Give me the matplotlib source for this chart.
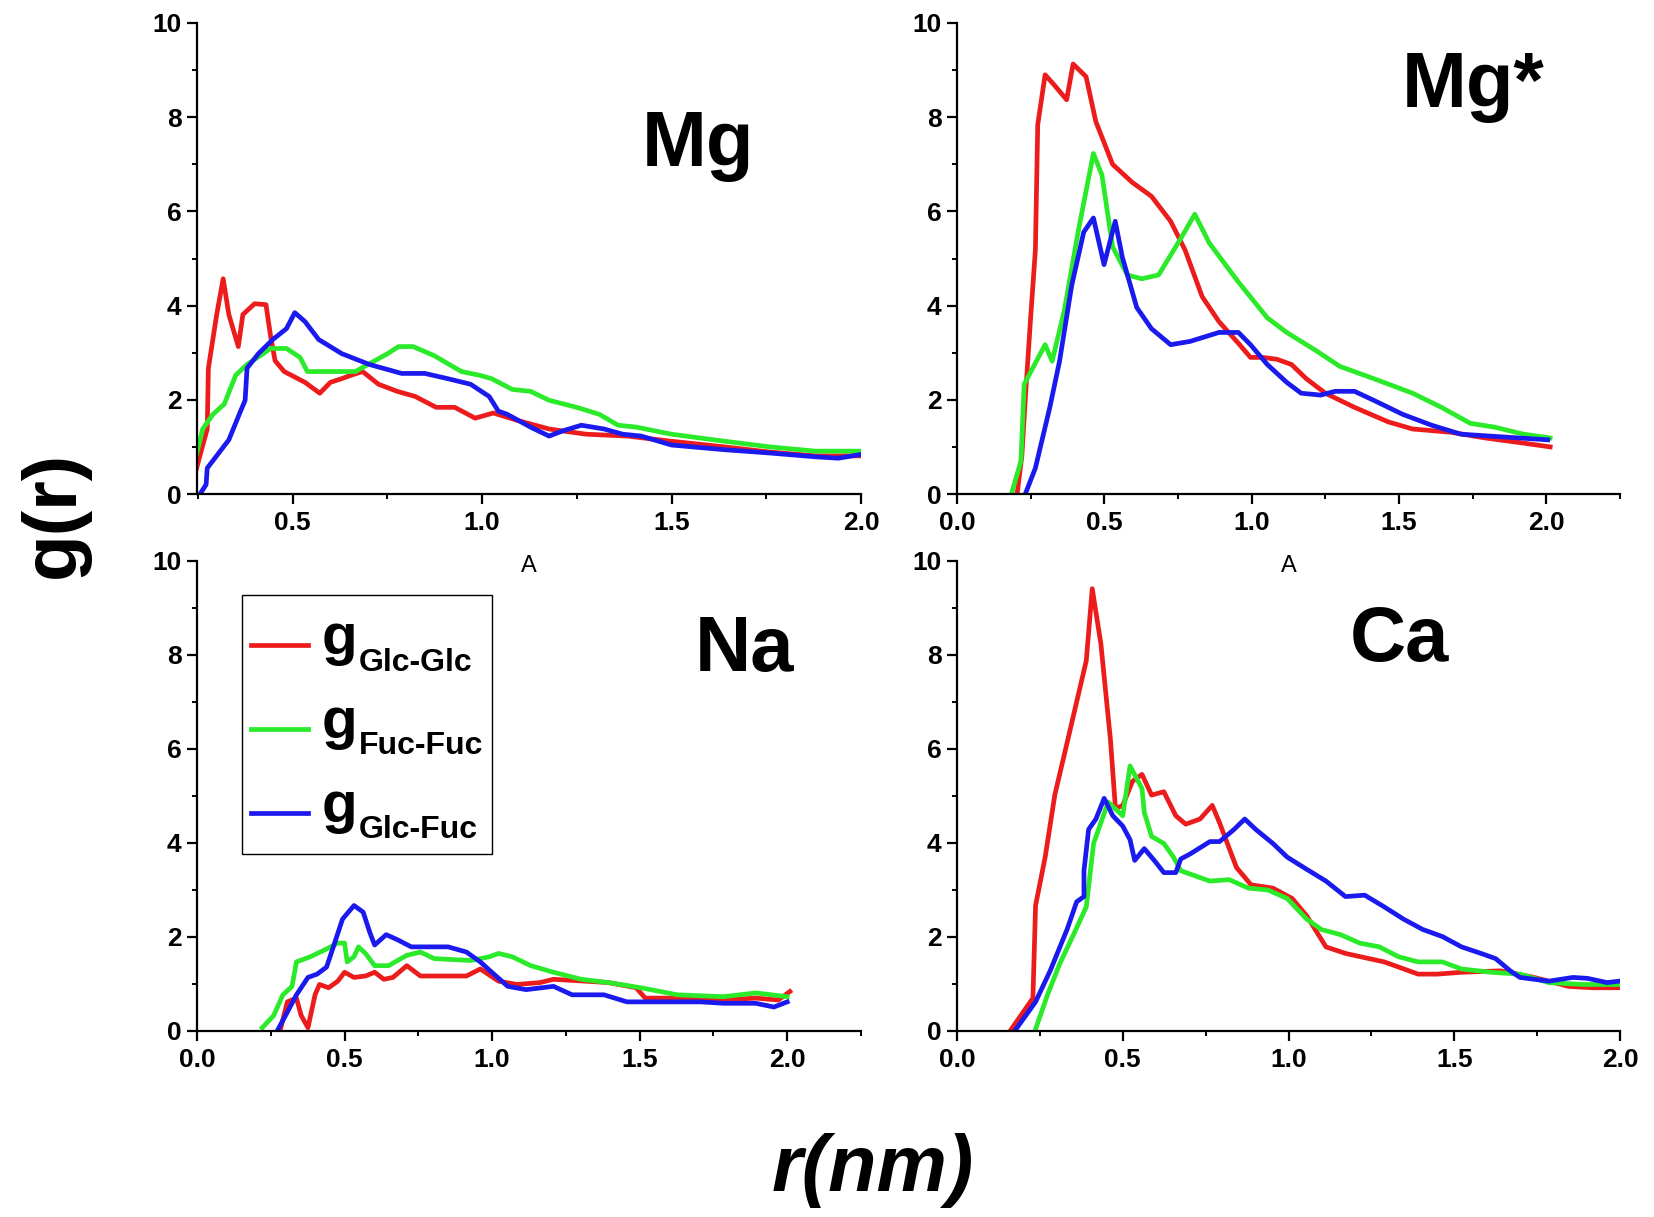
import matplotlib
matplotlib.use("Agg")
import matplotlib.pyplot as plt
from matplotlib.ticker import MultipleLocator
from matplotlib.lines import Line2D
from matplotlib.offsetbox import AnchoredOffsetbox, HPacker, VPacker, TextArea, DrawingArea

plt.rcParams['font.family'] = ['Liberation Sans', 'DejaVu Sans']

RED = '#ec1c1c'
GREEN = '#2aea2a'
BLUE = '#1a1aee'

# ---- Mg ----
mg_glc_x = [0.247, 0.262, 0.275, 0.278, 0.30, 0.317, 0.332, 0.357, 0.369, 0.40, 0.43, 0.442, 0.454, 0.478,
            0.533, 0.572, 0.60, 0.63, 0.654, 0.685, 0.727, 0.776, 0.824, 0.879, 0.928, 0.982, 1.03, 1.09,
            1.177, 1.274, 1.383, 1.5, 1.64, 1.76, 1.88, 2.0]
mg_glc_y = [0.55, 1.0, 1.38, 2.67, 3.81, 4.57, 3.81, 3.13, 3.81, 4.04, 4.02, 3.36, 2.83, 2.6,
            2.37, 2.14, 2.37, 2.45, 2.52, 2.6, 2.33, 2.18, 2.07, 1.84, 1.84, 1.61, 1.72, 1.57,
            1.38, 1.27, 1.23, 1.12, 1.0, 0.89, 0.81, 0.81]
mg_fuc_x = [0.247, 0.263, 0.29, 0.32, 0.35, 0.38, 0.423, 0.442, 0.484, 0.52, 0.539, 0.666, 0.715, 0.751,
            0.78, 0.818, 0.873, 0.946, 0.994, 1.025, 1.08, 1.128, 1.177, 1.25, 1.31, 1.359, 1.407, 1.5,
            1.64, 1.76, 1.88, 2.0]
mg_fuc_y = [0.85, 1.38, 1.69, 1.91, 2.52, 2.75, 2.98, 3.09, 3.09, 2.9, 2.6, 2.6, 2.82, 2.98,
            3.13, 3.13, 2.94, 2.6, 2.52, 2.45, 2.22, 2.18, 1.99, 1.84, 1.69, 1.46, 1.42, 1.27,
            1.12, 1.0, 0.91, 0.91]
mg_mix_x = [0.256, 0.272, 0.275, 0.296, 0.332, 0.363, 0.375, 0.38, 0.41, 0.448, 0.484, 0.506, 0.533, 0.569,
            0.63, 0.703, 0.788, 0.849, 0.909, 0.97, 1.019, 1.043, 1.067, 1.128, 1.177, 1.213, 1.262, 1.322,
            1.371, 1.42, 1.5, 1.64, 1.76, 1.88, 1.94, 2.0]
mg_mix_y = [0.0, 0.2, 0.55, 0.77, 1.15, 1.76, 1.99, 2.67, 2.98, 3.28, 3.51, 3.85, 3.66, 3.28,
            2.98, 2.75, 2.56, 2.56, 2.45, 2.33, 2.07, 1.76, 1.69, 1.42, 1.23, 1.34, 1.46, 1.38,
            1.27, 1.23, 1.04, 0.94, 0.87, 0.79, 0.76, 0.84]

# ---- Mg* ----
mgs_glc_x = [0.205, 0.22, 0.233, 0.249, 0.266, 0.274, 0.299, 0.332, 0.372, 0.394, 0.438, 0.471, 0.528,
             0.594, 0.66, 0.725, 0.774, 0.832, 0.889, 0.955, 0.996, 1.037, 1.086, 1.135, 1.185, 1.25,
             1.349, 1.464, 1.546, 1.677, 1.792, 1.923, 2.013]
mgs_glc_y = [0.05, 0.8, 2.14, 3.66, 5.18, 7.84, 8.9, 8.67, 8.37, 9.13, 8.86, 7.91, 7.0,
             6.62, 6.32, 5.79, 5.18, 4.19, 3.66, 3.2, 2.9, 2.9, 2.86, 2.75, 2.45, 2.14,
             1.84, 1.53, 1.38, 1.31, 1.19, 1.08, 1.0]
mgs_fuc_x = [0.187, 0.217, 0.228, 0.299, 0.323, 0.364, 0.413, 0.463, 0.492, 0.528, 0.578, 0.627, 0.684,
             0.758, 0.807, 0.856, 0.955, 1.053, 1.119, 1.217, 1.299, 1.414, 1.546, 1.644, 1.742, 1.824,
             1.923, 2.013]
mgs_fuc_y = [0.05, 0.7, 2.33, 3.17, 2.82, 3.89, 5.63, 7.23, 6.77, 5.25, 4.65, 4.57, 4.65,
             5.41, 5.94, 5.33, 4.5, 3.74, 3.43, 3.05, 2.71, 2.45, 2.14, 1.84, 1.5, 1.42,
             1.27, 1.19]
mgs_mix_x = [0.233, 0.266, 0.315, 0.348, 0.389, 0.43, 0.463, 0.499, 0.537, 0.561, 0.61, 0.66, 0.725,
             0.791, 0.889, 0.955, 0.996, 1.053, 1.119, 1.168, 1.234, 1.283, 1.349, 1.414, 1.513, 1.611,
             1.71, 1.808, 1.906, 2.005]
mgs_mix_y = [0.02, 0.55, 1.84, 2.82, 4.42, 5.56, 5.86, 4.87, 5.79, 5.03, 3.96, 3.51, 3.17,
             3.24, 3.43, 3.43, 3.17, 2.75, 2.37, 2.14, 2.10, 2.18, 2.18, 1.99, 1.69, 1.46,
             1.27, 1.23, 1.19, 1.15]

# ---- Na ----
na_glc_x = [0.283, 0.306, 0.337, 0.353, 0.376, 0.40, 0.415, 0.446, 0.477, 0.50, 0.532, 0.571, 0.602,
            0.633, 0.664, 0.711, 0.757, 0.851, 0.913, 0.96, 1.022, 1.084, 1.162, 1.208, 1.317, 1.395,
            1.488, 1.519, 1.628, 1.784, 1.893, 1.97, 2.009]
na_glc_y = [0.04, 0.62, 0.70, 0.33, 0.07, 0.77, 0.99, 0.92, 1.06, 1.25, 1.14, 1.17, 1.25,
            1.10, 1.14, 1.39, 1.17, 1.17, 1.17, 1.32, 1.06, 0.99, 1.03, 1.10, 1.06, 1.03,
            0.92, 0.70, 0.70, 0.66, 0.70, 0.66, 0.84]
na_fuc_x = [0.221, 0.26, 0.291, 0.322, 0.337, 0.384, 0.431, 0.477, 0.50, 0.509, 0.532, 0.547, 0.571,
            0.602, 0.649, 0.711, 0.757, 0.804, 0.928, 0.991, 1.022, 1.068, 1.131, 1.208, 1.302, 1.395,
            1.504, 1.628, 1.784, 1.893, 2.0]
na_fuc_y = [0.07, 0.33, 0.77, 0.95, 1.47, 1.58, 1.72, 1.87, 1.87, 1.47, 1.58, 1.79, 1.65,
            1.39, 1.39, 1.61, 1.68, 1.54, 1.50, 1.58, 1.65, 1.58, 1.39, 1.25, 1.10, 1.03,
            0.92, 0.77, 0.73, 0.81, 0.73]
na_mix_x = [0.275, 0.306, 0.337, 0.376, 0.407, 0.439, 0.462, 0.493, 0.532, 0.563, 0.586, 0.602, 0.641,
            0.68, 0.726, 0.851, 0.913, 0.96, 1.006, 1.053, 1.115, 1.208, 1.271, 1.379, 1.457, 1.55,
            1.706, 1.784, 1.893, 1.955, 2.0]
na_mix_y = [0.04, 0.40, 0.77, 1.14, 1.21, 1.36, 1.79, 2.38, 2.67, 2.53, 2.09, 1.83, 2.05,
            1.94, 1.79, 1.79, 1.68, 1.47, 1.21, 0.95, 0.88, 0.95, 0.77, 0.77, 0.62, 0.62,
            0.62, 0.59, 0.59, 0.51, 0.62]

# ---- Ca ----
ca_glc_x = [0.164, 0.229, 0.237, 0.266, 0.295, 0.339, 0.39, 0.408, 0.434, 0.463, 0.478, 0.50, 0.529,
            0.558, 0.587, 0.624, 0.66, 0.69, 0.733, 0.77, 0.792, 0.843, 0.887, 0.953, 1.011, 1.055,
            1.113, 1.172, 1.289, 1.391, 1.449, 1.522, 1.639, 1.741, 1.844, 1.917, 1.997]
ca_glc_y = [0.04, 0.70, 2.67, 3.70, 5.02, 6.34, 7.88, 9.41, 8.24, 6.19, 4.73, 4.80, 5.31,
            5.46, 5.02, 5.09, 4.58, 4.40, 4.51, 4.80, 4.43, 3.48, 3.11, 3.04, 2.82, 2.45,
            1.79, 1.65, 1.47, 1.21, 1.21, 1.25, 1.28, 1.14, 0.95, 0.92, 0.92]
ca_fuc_x = [0.237, 0.273, 0.31, 0.354, 0.39, 0.412, 0.456, 0.50, 0.522, 0.558, 0.565, 0.587, 0.624,
            0.653, 0.675, 0.763, 0.821, 0.879, 0.938, 0.996, 1.055, 1.099, 1.157, 1.215, 1.274, 1.332,
            1.391, 1.464, 1.522, 1.61, 1.698, 1.785, 1.887, 1.997]
ca_fuc_y = [0.04, 0.77, 1.43, 2.09, 2.64, 3.99, 4.87, 4.58, 5.64, 5.16, 4.65, 4.14, 3.99,
            3.70, 3.41, 3.19, 3.22, 3.04, 3.0, 2.82, 2.38, 2.16, 2.05, 1.87, 1.79, 1.58,
            1.47, 1.47, 1.32, 1.25, 1.21, 1.03, 0.99, 0.99]
ca_mix_x = [0.178, 0.237, 0.281, 0.332, 0.361, 0.383, 0.383, 0.397, 0.419, 0.444, 0.47, 0.50, 0.522,
            0.536, 0.565, 0.595, 0.624, 0.66, 0.675, 0.704, 0.763, 0.792, 0.836, 0.868, 0.901, 0.953,
            0.996, 1.055, 1.113, 1.172, 1.23, 1.289, 1.347, 1.405, 1.464, 1.522, 1.581, 1.625, 1.669,
            1.698, 1.785, 1.858, 1.902, 1.961, 1.997]
ca_mix_y = [0.04, 0.62, 1.28, 2.16, 2.75, 2.86, 3.41, 4.29, 4.51, 4.95, 4.58, 4.36, 4.07,
            3.63, 3.88, 3.63, 3.37, 3.37, 3.66, 3.77, 4.03, 4.03, 4.29, 4.51, 4.29, 3.99,
            3.70, 3.44, 3.19, 2.86, 2.89, 2.64, 2.38, 2.16, 2.01, 1.79, 1.65, 1.54, 1.28,
            1.14, 1.06, 1.14, 1.12, 1.03, 1.06]

subscripts = ['Glc-Glc', 'Fuc-Fuc', 'Glc-Fuc']
colors = [RED, GREEN, BLUE]

W, H = 1654, 1217
fig = plt.figure(figsize=(W / 100, H / 100), dpi=100)


def make_axes(left, top, right, bottom):
    ax = fig.add_axes([left / W, 1 - bottom / H, (right - left) / W, (bottom - top) / H])
    ax.set_facecolor('none')
    return ax


ax_mg = make_axes(197, 23, 861, 494)
ax_mgs = make_axes(957, 23, 1620, 494)
ax_na = make_axes(197, 561, 861, 1031)
ax_ca = make_axes(957, 561, 1620, 1031)

panels = [
    (ax_mg, 'Mg', (0.755, 0.696), (0.248, 2.0),
     [(mg_glc_x, mg_glc_y), (mg_fuc_x, mg_fuc_y), (mg_mix_x, mg_mix_y)]),
    (ax_mgs, 'Mg*', (0.778, 0.822), (0.0, 2.25),
     [(mgs_glc_x, mgs_glc_y), (mgs_fuc_x, mgs_fuc_y), (mgs_mix_x, mgs_mix_y)]),
    (ax_na, 'Na', (0.825, 0.767), (0.0, 2.25),
     [(na_glc_x, na_glc_y), (na_fuc_x, na_fuc_y), (na_mix_x, na_mix_y)]),
    (ax_ca, 'Ca', (0.667, 0.788), (0.0, 2.0),
     [(ca_glc_x, ca_glc_y), (ca_fuc_x, ca_fuc_y), (ca_mix_x, ca_mix_y)]),
]

for ax, name, pos, xlim, series in panels:
    for (x, y), c in zip(series, colors):
        ax.plot(x, y, color=c, lw=3.4, solid_joinstyle='round')
    ax.set_xlim(*xlim)
    ax.set_ylim(0, 10)
    ax.xaxis.set_major_locator(MultipleLocator(0.5))
    ax.xaxis.set_minor_locator(MultipleLocator(0.25))
    ax.yaxis.set_major_locator(MultipleLocator(2))
    ax.yaxis.set_minor_locator(MultipleLocator(1))
    ax.xaxis.set_major_formatter(matplotlib.ticker.FormatStrFormatter('%.1f'))
    ax.spines['top'].set_visible(False)
    ax.spines['right'].set_visible(False)
    for s in ['left', 'bottom']:
        ax.spines[s].set_linewidth(1.6)
    ax.tick_params(which='major', direction='out', length=7, width=1.6, labelsize=19)
    ax.tick_params(axis='x', which='major', pad=5)
    ax.tick_params(axis='y', which='major', pad=4)
    ax.tick_params(which='minor', direction='out', length=3.6, width=1.4)
    for t in ax.get_xticklabels() + ax.get_yticklabels():
        t.set_fontweight('bold')
    ax.text(pos[0], pos[1], name, transform=ax.transAxes, ha='center', va='baseline',
            fontsize=56, fontweight='bold')

ax_mg.set_xlabel('A', fontsize=17, fontweight='normal', labelpad=15)
ax_mgs.set_xlabel('A', fontsize=17, fontweight='normal', labelpad=15)

# legend: big "g" with a smaller, lowered subscript
rows = []
for c, sub in zip(colors, subscripts):
    handle = DrawingArea(41, 47, 0, 0)
    handle.add_artist(Line2D([0, 41], [23.6, 23.6], color=c, lw=3.4))
    g_box = VPacker(children=[TextArea('g', textprops=dict(fontsize=42, fontweight='bold')),
                              DrawingArea(1, 8, 0, 0)], align='left', pad=0, sep=0)
    sub_box = TextArea(sub, textprops=dict(fontsize=23, fontweight='bold'))
    label = HPacker(children=[g_box, sub_box], align='bottom', pad=0, sep=1)
    rows.append(HPacker(children=[handle, label], align='bottom', pad=0, sep=10))
entries = VPacker(children=rows, align='left', pad=0, sep=13.4)
legend_box = VPacker(children=[DrawingArea(1, 6, 0, 0), entries], align='left', pad=0, sep=0)
leg = AnchoredOffsetbox(loc='upper left', child=legend_box, pad=0.62, borderpad=0,
                        frameon=True, prop=dict(size=10),
                        bbox_to_anchor=(0.068, 0.927), bbox_transform=ax_na.transAxes)
leg.patch.set_edgecolor('black')
leg.patch.set_linewidth(1.0)
leg.patch.set_boxstyle('square', pad=0)
ax_na.add_artist(leg)

fig.text(54 / W, 1 - 514 / H, 'g(r)', rotation=90, ha='center', va='center',
         fontsize=55, fontweight='bold')
fig.text(873 / W, 1 - 1170 / H, 'r(nm)', ha='center', va='center',
         fontsize=57, fontweight='bold', style='italic')

fig.savefig('out.png', dpi=100)
